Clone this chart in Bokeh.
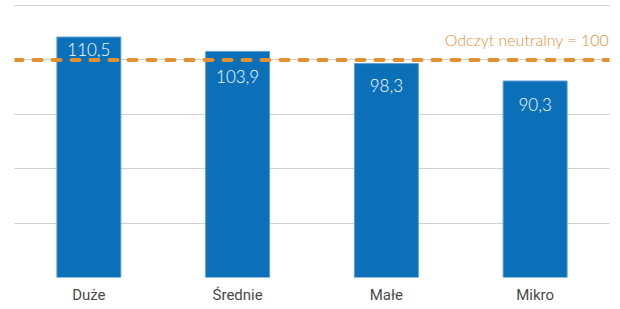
from bokeh.plotting import figure
from bokeh.models import Span, ColumnDataSource, Range1d, FactorRange, SingleIntervalTicker
from bokeh.core.properties import value
from bokeh.embed import file_html
from bokeh.resources import INLINE

categories = ["Duże", "Średnie", "Małe", "Mikro"]
values = [110.5, 103.9, 98.3, 90.3]
labels = ["110,5", "103,9", "98,3", "90,3"]
neutral = 100
neutral_label = "Odczyt neutralny = 100"

BLUE = "#0B70B8"
ORANGE = "#E3902E"

label_offsets = [12, 25, 22, 23]

src = ColumnDataSource(dict(cat=categories, val=values, lab=labels, off=label_offsets))

p = figure(width=612, height=306, x_range=FactorRange(*categories, range_padding=0),
           y_range=Range1d(0, 127.3), output_backend="svg", toolbar_location=None,
           min_border_left=14, min_border_right=3, min_border_top=0, min_border_bottom=27)
p.outline_line_color = None
p.background_fill_color = None
p.border_fill_color = "white"

p.vbar(x="cat", top="val", width=0.43, source=src, fill_color=BLUE,
       line_color="#5A9FD6", line_width=1)

p.yaxis.visible = False
p.yaxis.ticker = SingleIntervalTicker(interval=25)
p.ygrid.ticker = SingleIntervalTicker(interval=25)
p.xgrid.grid_line_color = None
p.ygrid.grid_line_color = "#A0A0A0"
p.ygrid.grid_line_dash = "1 1"
p.ygrid.grid_line_width = 1

p.xaxis.axis_line_color = None
p.xaxis.major_tick_line_color = None
p.xaxis.minor_tick_line_color = None
p.xaxis.major_tick_out = 0
p.xaxis.major_tick_in = 0
p.xaxis.major_label_standoff = 8
p.xaxis.major_label_text_font = "Roboto"
p.xaxis.major_label_text_font_size = "15px"
p.xaxis.major_label_text_color = "#4A4A4A"

span = Span(location=neutral, dimension="width", line_color=ORANGE, line_width=4,
            line_dash="8 11", line_cap="round")
p.add_layout(span)

p.text(x="cat", y="val", text="lab", source=src, y_offset="off",
       text_align="center", text_baseline="middle", text_color="white",
       text_font=value("Lato Light"), text_font_size="17px")

p.text(x=[categories[-1]], y=[neutral], text=[neutral_label], x_offset=74, y_offset=-20,
       text_align="right", text_baseline="middle", text_color=ORANGE,
       text_font=value("Lato Light"), text_font_size="16px")

open("out.html", "w").write(file_html(p, INLINE))
